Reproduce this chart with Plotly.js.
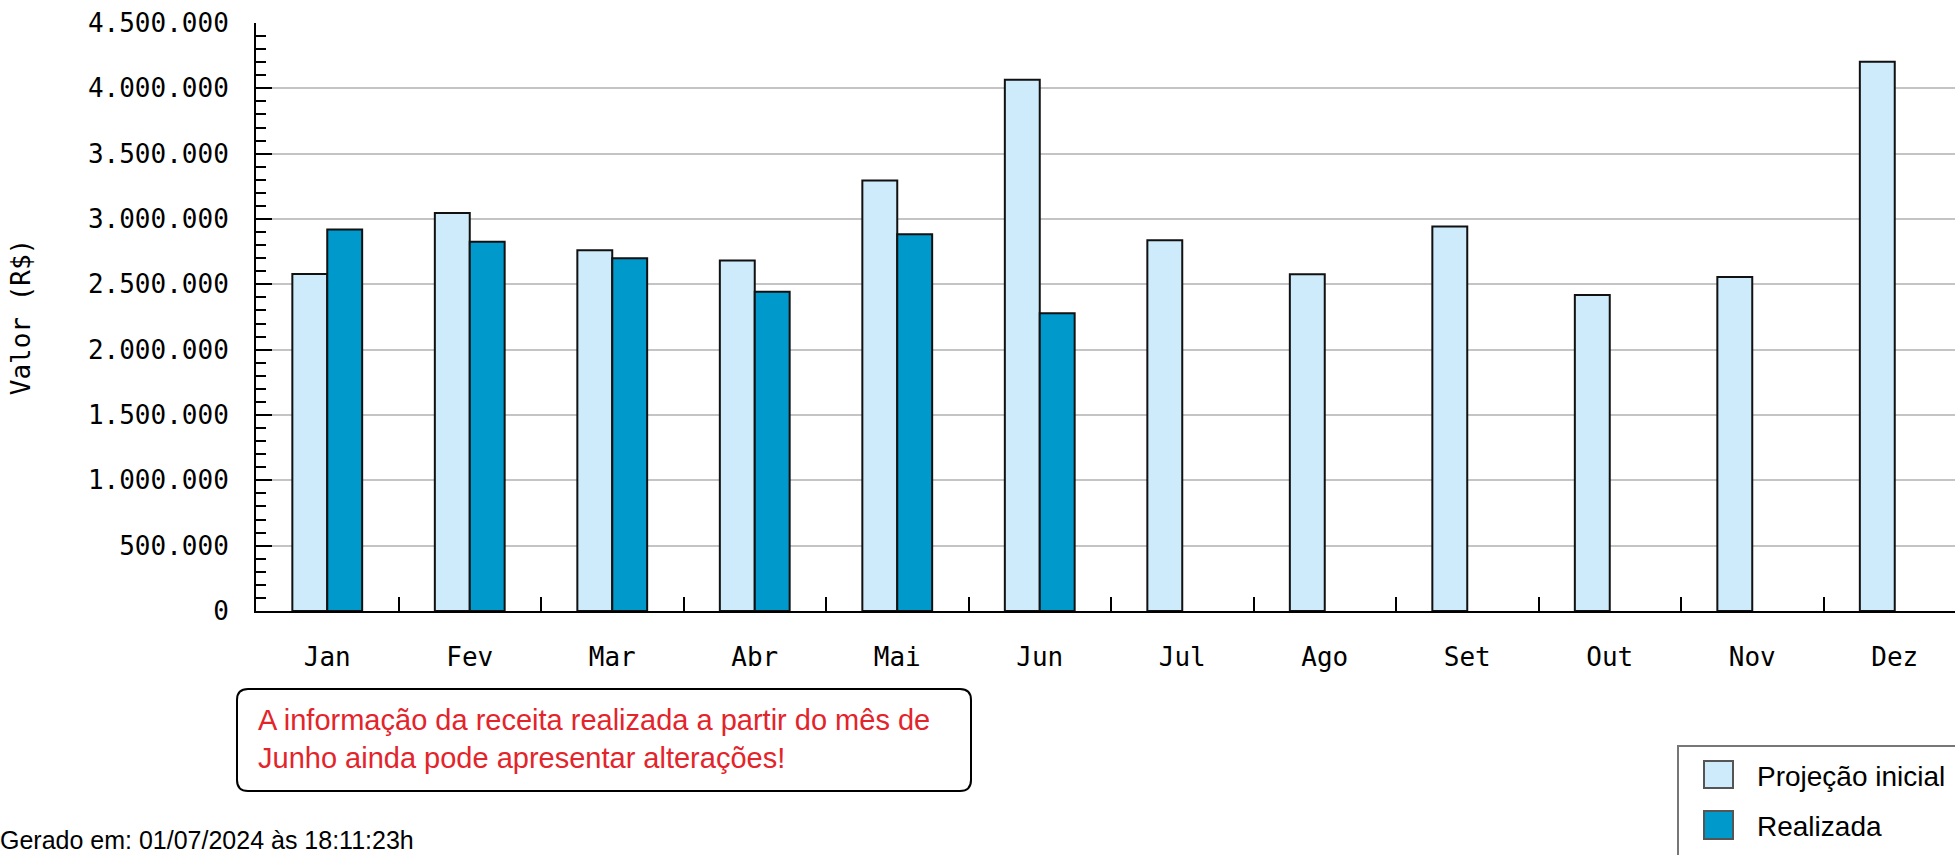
<!DOCTYPE html>
<html>
<head>
<meta charset="utf-8">
<script src="https://cdn.plot.ly/plotly-3.0.1.min.js"></script>
<style>
html,body{margin:0;padding:0;background:#fff;overflow:hidden;width:1955px;height:855px;}
#chart{width:2000px;height:855px;}
</style>
</head>
<body>
<div id="chart"></div>
<script>
// ---- data ----
const months = ['Jan','Fev','Mar','Abr','Mai','Jun','Jul','Ago','Set','Out','Nov','Dez'];
const projecaoInicial = [2580000, 3045000, 2760000, 2683000, 3295000, 4065000, 2838000, 2578000, 2943000, 2418000, 2556000, 4203000];
const realizada = [2920000, 2825000, 2700000, 2443000, 2883000, 2278000, null, null, null, null, null, null];
const seriesNames = ['Projeção inicial', 'Realizada'];
const yAxisTitle = 'Valor (R$)';
const noteText = 'A informação da receita realizada a partir do mês de<br>Junho ainda pode apresentar alterações!';
const footerText = 'Gerado em: 01/07/2024 às 18:11:23h';

// ---- layout helpers (pixel -> paper) ----
const W = 2000, H = 855;
const M = {l:256, r:34, t:23, b:244};
const PW = W - M.l - M.r, PH = H - M.t - M.b;
const px = v => (v - M.l) / PW;
const py = v => (H - M.b - v) / PH;

const lightFill = '#cdebfa', darkFill = '#0099cc';
const mono = 'DejaVu Sans Mono, monospace';
const sans = 'Liberation Sans, Arial, sans-serif';

function roundRect(x0, y0, x1, y1, r) {
  const P = (x, y) => px(x) + ',' + py(y);
  return 'M' + P(x0 + r, y0) + ' L' + P(x1 - r, y0) + ' Q' + P(x1, y0) + ' ' + P(x1, y0 + r) +
    ' L' + P(x1, y1 - r) + ' Q' + P(x1, y1) + ' ' + P(x1 - r, y1) +
    ' L' + P(x0 + r, y1) + ' Q' + P(x0, y1) + ' ' + P(x0, y1 - r) +
    ' L' + P(x0, y0 + r) + ' Q' + P(x0, y0) + ' ' + P(x0 + r, y0) + ' Z';
}

const traces = [
  {type:'bar', x:months, y:projecaoInicial, name:seriesNames[0],
   marker:{color:lightFill, line:{color:'#111', width:2}}},
  {type:'bar', x:months, y:realizada, name:seriesNames[1],
   marker:{color:darkFill, line:{color:'#111', width:2}}}
];

const layout = {
  width: W, height: H,
  margin: M,
  paper_bgcolor:'#fff', plot_bgcolor:'#fff',
  showlegend:false,
  barmode:'group', bargap:0.51, bargroupgap:0,
  separators:',.',
  font:{family:mono, size:26, color:'#000'},
  xaxis:{
    type:'category', showgrid:false, zeroline:false,
    showline:true, linecolor:'#000', linewidth:2,
    ticks:'inside', tickson:'boundaries', ticklen:14, tickwidth:2, tickcolor:'#000',
    tickfont:{family:mono, size:26, color:'#000'},
    ticklabelstandoff:22
  },
  yaxis:{
    range:[0, 4500000], dtick:500000, tick0:0, tickformat:',d',
    showgrid:true, gridcolor:'#c4c4c4', gridwidth:2, zeroline:false,
    showline:true, linecolor:'#000', linewidth:2,
    ticks:'inside', ticklen:16, tickwidth:2, tickcolor:'#000',
    minor:{dtick:100000, ticks:'inside', ticklen:10, tickwidth:2, tickcolor:'#000', showgrid:false},
    tickfont:{family:mono, size:26, color:'#000'},
    ticklabelstandoff:20,
    title:{text:yAxisTitle, font:{family:mono, size:26, color:'#000'}, standoff:50}
  },
  shapes:[
    {type:'path', xref:'paper', yref:'paper', path:roundRect(237, 689, 971, 791, 11),
     line:{color:'#000', width:2}, fillcolor:'#fff'},
    {type:'rect', xref:'paper', yref:'paper', x0:px(1678), x1:px(2010), y0:py(746), y1:py(880),
     line:{color:'#777', width:2}, fillcolor:'#fff'},
    {type:'rect', xref:'paper', yref:'paper', x0:px(1704), x1:px(1733), y0:py(761), y1:py(788),
     line:{color:'#555', width:2}, fillcolor:lightFill},
    {type:'rect', xref:'paper', yref:'paper', x0:px(1704), x1:px(1733), y0:py(811), y1:py(839),
     line:{color:'#555', width:2}, fillcolor:darkFill}
  ],
  annotations:[
    {xref:'paper', yref:'paper', x:px(256), y:py(739), xanchor:'left', yanchor:'middle', align:'left',
     showarrow:false, text:noteText, font:{family:sans, size:29, color:'#e3242b'}},
    {xref:'paper', yref:'paper', x:px(-2), y:py(856), xanchor:'left', yanchor:'bottom', align:'left',
     showarrow:false, text:footerText, font:{family:sans, size:25, color:'#000'}},
    {xref:'paper', yref:'paper', x:px(1755), y:py(776), xanchor:'left', yanchor:'middle',
     showarrow:false, text:seriesNames[0], font:{family:sans, size:28, color:'#000'}},
    {xref:'paper', yref:'paper', x:px(1755), y:py(826), xanchor:'left', yanchor:'middle',
     showarrow:false, text:seriesNames[1], font:{family:sans, size:28, color:'#000'}}
  ]
};

Plotly.newPlot('chart', traces, layout, {displayModeBar:false, staticPlot:true});
</script>
</body>
</html>
